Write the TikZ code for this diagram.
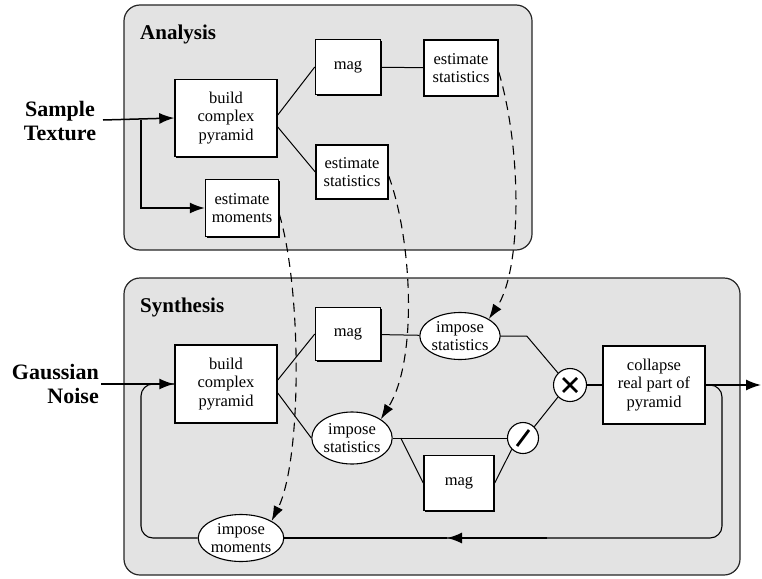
\documentclass[tikz,border=0pt]{standalone}
\usepackage{fontspec}
\setmainfont{Liberation Serif}
\usetikzlibrary{positioning,calc,arrows.meta,shapes.geometric,shadows}

\begin{document}
\begin{tikzpicture}[x=1pt,y=-1pt,
        every node/.style={font=\fontsize{16.5}{18.5}\selectfont,align=center,inner sep=0pt},
        panel/.style={draw=black!85,line width=1.2pt,fill=black!11,rounded corners=16pt},
        title/.style={font=\fontsize{21}{23}\selectfont\bfseries,anchor=base west},
        inlabel/.style={font=\fontsize{22}{23.5}\selectfont\bfseries},
        box/.style={draw,fill=white,line width=1.5pt,
            drop shadow={shadow xshift=1.4pt,shadow yshift=-1.4pt,fill=black,opacity=1}},
        oval/.style={ellipse,draw,fill=white,line width=1.1pt},
        op/.style={circle,draw,fill=white,line width=1.1pt,minimum size=33pt},
        link/.style={line width=1pt},
        flow/.style={line width=1.5pt,-{Latex[length=15pt,width=11pt]}},
        feed/.style={line width=1.1pt,rounded corners=12pt},
        est/.style={line width=1.1pt,dash pattern=on 9pt off 6pt,-{Latex[length=15pt,width=10pt]}}]
   \useasboundingbox (0,0) rectangle (762,578);
   % panels
   \draw[panel] (124,5) rectangle (532,250);
   \draw[panel] (124,278) rectangle (740,575);
   \node[title] (aTitle) at (140,40) {Analysis};
   \node[title] (sTitle) at (140,312) {Synthesis};
   % analysis
   \node[box,minimum width=102pt,minimum height=77pt] (aBuild) at (226,118) {build\\complex\\pyramid};
   \node[box,minimum width=65pt,minimum height=55pt] (aMag) at (348,67) {mag};
   \node[box,minimum width=74pt,minimum height=56pt] (aStatA) at (461,68) {estimate\\statistics};
   \node[box,minimum width=72pt,minimum height=54pt] (aStatB) at (352,172) {estimate\\statistics};
   \node[box,minimum width=73pt,minimum height=57pt] (aMom) at (242,208) {estimate\\moments};
   \node[inlabel] (sample) at (60,121) {Sample\\Texture};
   \coordinate (inA) at (103,120);
   \coordinate (split) at (141,120);
   \draw[flow] (inA) -- (aBuild.west);
   \draw[flow] (split) |- (aMom.west);
   \draw[link] ([yshift=3pt]aBuild.east) -- (aMag.west);
   \draw[link] ([yshift=-9pt]aBuild.east) -- (aStatB.west);
   \draw[link] (aMag) -- (aStatA);
   % synthesis
   \node[box,minimum width=102pt,minimum height=78pt] (sBuild) at (226,384) {build\\complex\\pyramid};
   \node[box,minimum width=65pt,minimum height=53pt] (sMag) at (348,334) {mag};
   \node[oval,minimum width=76pt,minimum height=47pt] (sImpA) at (460,336) {impose\\statistics};
   \node[oval,minimum width=76pt,minimum height=52pt] (sImpB) at (352,438) {impose\\statistics};
   \node[oval,minimum width=78pt,minimum height=47pt] (sMom) at (241,538) {impose\\moments};
   \node[op] (sMul) at (570,385) {};
   \node[op,minimum size=31pt] (sDiv) at (523,438) {};
   \node[box,minimum width=70pt,minimum height=55pt] (sMagB) at (459,483) {mag};
   \node[box,minimum width=102pt,minimum height=78pt] (sCollapse) at (654,385) {collapse\\real part of\\pyramid};
   \draw[line width=2.8pt] ([shift={(-7,-7)}]sMul.center) -- ([shift={(7,7)}]sMul.center)
                           ([shift={(-7,7)}]sMul.center) -- ([shift={(7,-7)}]sMul.center);
   \draw[line width=2.8pt] ([shift={(-6,8)}]sDiv.center) -- ([shift={(6,-8)}]sDiv.center);
   \node[inlabel,align=right,anchor=east] (noise) at (99,384) {Gaussian\\Noise};
   \coordinate (inS) at (101,384);
   \coordinate (fbR) at (722,538);
   \coordinate (fbMid) at (447,538);
   \coordinate (fbL) at (141,538);
   \coordinate (split2) at ([xshift=8pt]sImpB.east);
   \draw[link] ([yshift=4pt]sBuild.east) -- (sMag.west);
   \draw[link] ([yshift=-9pt]sBuild.east) -- (sImpB.west);
   \draw[link] (sMag) -- (sImpA);
   \draw[link] (sImpA.east) -- ++(26,0) -- (sMul.135);
   \draw[link] (sImpB.east) -- (sDiv.west);
   \draw[link] (split2) -- (sMagB.west);
   \draw[link] (sMagB.east) -- (sDiv.225);
   \draw[link] (sDiv.45) -- (sMul.225);
   \draw[line width=1.8pt] (sMul) -- (sCollapse);
   \coordinate (out) at (761,385);
   \draw[flow] (sCollapse.east) -- (out);
   \draw[feed] (sCollapse.east) -| (fbR) -- (fbMid);
   \draw[flow] ([xshift=100pt]fbMid) -- (fbMid);
   \draw[feed] (fbMid) -- (sMom.east);
   \draw[feed] (sMom.west) -| (sBuild.west -| fbL) -- (sBuild.west);
   \draw[flow] (inS) -- (sBuild.west);
   % estimated parameters
   \draw[est] ([yshift=-4pt]aStatA.east) .. controls (522,150) and (522,270) .. (sImpA.north east);
   \draw[est] ([yshift=-4pt]aStatB.east) .. controls (412,240) and (418,360) .. (sImpB.north east);
   \draw[est] ([yshift=-6pt]aMom.east) .. controls (302,290) and (302,460) .. (sMom.north east);
\end{tikzpicture}
\end{document}
